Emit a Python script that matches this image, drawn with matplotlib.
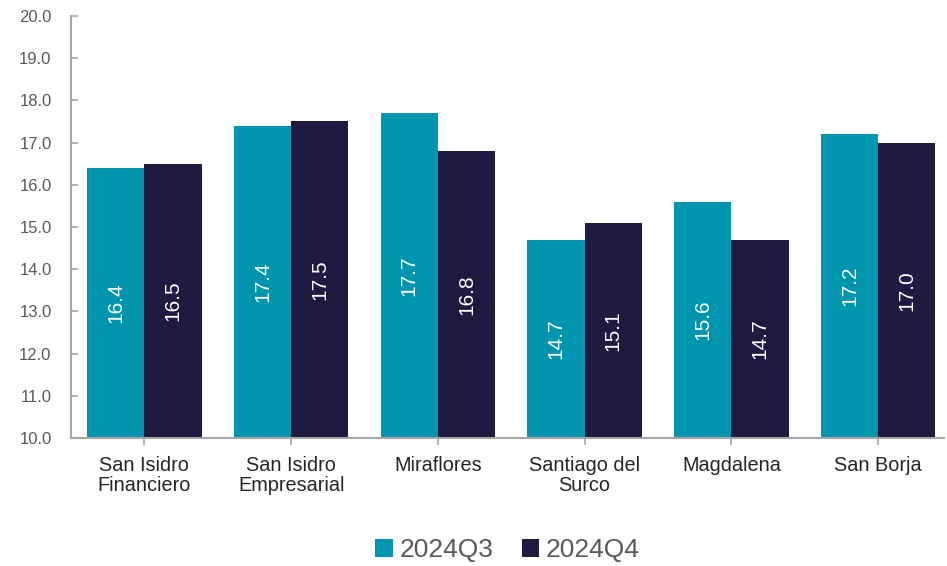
import numpy as np
import matplotlib.pyplot as plt

plt.rcParams['font.family'] = ['Liberation Sans', 'DejaVu Sans']

# Submarkets and values
districts = ['San Isidro\nFinanciero', 'San Isidro\nEmpresarial', 'Miraflores',
             'Santiago del\nSurco', 'Magdalena', 'San Borja']
q3 = [16.4, 17.4, 17.7, 14.7, 15.6, 17.2]
q4 = [16.5, 17.5, 16.8, 15.1, 14.7, 17.0]
series_names = ['2024Q3', '2024Q4']

teal = '#0095AE'
navy = '#1F1A40'
axis_gray = '#A6A6A6'

fig = plt.figure(figsize=(9.47, 5.66), dpi=100)
ax = fig.add_axes([0.075, 0.226, 0.922, 0.746])

x = np.arange(len(districts))
w = 0.39
b1 = ax.bar(x - w / 2, np.array(q3) - 10, w, bottom=10, color=teal, label=series_names[0])
b2 = ax.bar(x + w / 2, np.array(q4) - 10, w, bottom=10, color=navy, label=series_names[1])

# value labels, rotated, in the middle of each bar
for bars, vals in [(b1, q3), (b2, q4)]:
    for rect, v in zip(bars, vals):
        ax.text(rect.get_x() + rect.get_width() / 2, 10 + (v - 10) / 2, f'{v:.1f}',
                rotation=90, ha='center', va='center', color='white', fontsize=15)

ax.set_ylim(10, 20)
ax.set_yticks(np.arange(10, 20.1, 1))
ax.set_yticklabels([f'{t:.1f}' for t in np.arange(10, 20.1, 1)])
ax.set_xlim(-0.5, 5.45)
ax.set_xticks(x)
ax.set_xticklabels(districts, linespacing=1.05)

for s in ['top', 'right']:
    ax.spines[s].set_visible(False)
for s in ['left', 'bottom']:
    ax.spines[s].set_color(axis_gray)
    ax.spines[s].set_linewidth(1.5)

ax.tick_params(axis='y', direction='in', length=5, color=axis_gray, width=1.2,
               labelsize=12, labelcolor='#595959', pad=14)
ax.tick_params(axis='x', direction='out', length=5, color=axis_gray, width=1.2,
               labelsize=14.3, labelcolor='#262626', pad=8)

# legend centred under the plot area
ax.legend(loc='center', bbox_to_anchor=(0.5, -0.265), ncol=2, frameon=False,
          fontsize=19, labelcolor='#595959', handlelength=0.65, handleheight=0.65,
          handletextpad=0.25, columnspacing=1.1)

plt.savefig('out.png', dpi=100)
